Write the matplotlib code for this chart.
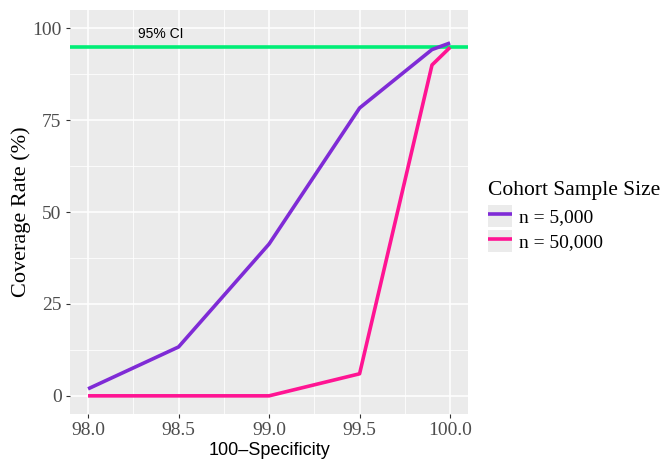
import numpy as np
import matplotlib.pyplot as plt
from matplotlib.ticker import MultipleLocator
from matplotlib.patches import Patch
from matplotlib.legend_handler import HandlerTuple

# datos
spec = [98.0, 98.5, 99.0, 99.5, 99.9, 100.0]
cov_5k = [1.9, 13.3, 41.3, 78.3, 94.2, 96.0]
cov_50k = [0.0, 0.0, 0.0, 6.0, 90.0, 94.8]
ci_level = 95
x_ticks = [98.0, 98.5, 99.0, 99.5, 100.0]
y_ticks = [0, 25, 50, 75, 100]

fig = plt.figure(figsize=(6.66, 4.65), dpi=100)
ax = fig.add_axes([0.105, 0.110, 0.598, 0.868])
ax.set_facecolor('#EBEBEB')
for s in ax.spines.values():
    s.set_visible(False)

ax.set_xlim(97.9, 100.1)
ax.set_ylim(-4.9, 104.9)
ax.set_xticks(x_ticks)
ax.set_yticks(y_ticks)
ax.xaxis.set_minor_locator(MultipleLocator(0.25))
ax.yaxis.set_minor_locator(MultipleLocator(12.5))
ax.grid(which='major', color='white', lw=1.1)
ax.grid(which='minor', color='white', lw=0.55)
ax.set_axisbelow(True)
ax.tick_params(which='minor', length=0)
ax.tick_params(which='major', length=3, color='#333333', labelsize=14, labelcolor='#4D4D4D', pad=3)
ax.set_xticklabels(['%.1f' % v for v in x_ticks], family='Liberation Serif')
ax.set_yticklabels([str(v) for v in y_ticks], family='Liberation Serif')

ax.axhline(ci_level, color='#00EE76', lw=2.6)
ax.text(98.4, ci_level + 1.5, '95% CI', family='Liberation Sans', fontsize=10, va='bottom', ha='center')

l1, = ax.plot(spec, cov_5k, color='#7F2BD6', lw=2.6, solid_capstyle='butt')
l2, = ax.plot(spec, cov_50k, color='#FF1493', lw=2.6, solid_capstyle='butt')

ax.set_xlabel('100\u2013Specificity', family='Liberation Sans', fontsize=13, labelpad=2)
ax.set_ylabel('Coverage Rate (%)', family='Liberation Serif', fontsize=16, labelpad=1)

bg = Patch(facecolor='#EBEBEB', edgecolor='none')
leg = fig.legend(handles=[(bg, l1), (bg, l2)], labels=['n = 5,000', 'n = 50,000'],
                 handler_map={tuple: HandlerTuple(ndivide=1, pad=0)},
                 title='Cohort Sample Size', loc='center left',
                 bbox_to_anchor=(0.733, 0.535), frameon=False,
                 prop={'family': 'Liberation Serif', 'size': 14},
                 handlelength=1.2, handleheight=1.3, handletextpad=0.4,
                 borderaxespad=0, borderpad=0, labelspacing=0.2)
leg.get_title().set_family('Liberation Serif')
leg.get_title().set_fontsize(15.5)
leg._legend_box.align = 'left'
leg._legend_box.sep = 4

fig.savefig('out.png', dpi=100)
